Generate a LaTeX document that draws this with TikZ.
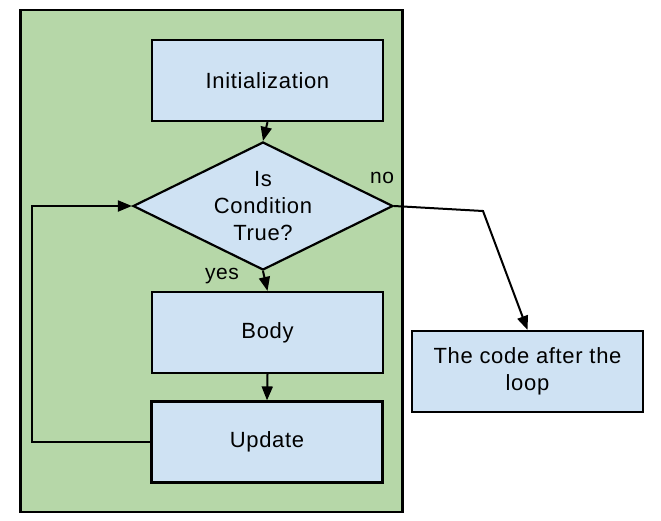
\documentclass[tikz,border=0pt]{standalone}
\usepackage{fontspec}
\setmainfont[LetterSpace=3]{Liberation Sans}
\usetikzlibrary{shapes.geometric,arrows.meta}
\definecolor{bggreen}{HTML}{B6D7A8}
\definecolor{boxblue}{HTML}{CFE2F3}
\tikzset{
  procbox/.style={draw=black, line width=2.2pt, fill=boxblue, minimum width=231pt, minimum height=81pt, inner sep=0pt, font=\fontsize{22pt}{27pt}\selectfont, align=center},
  decision/.style={draw=black, line width=2.2pt, fill=boxblue, diamond, minimum width=260pt, minimum height=128pt, inner sep=0pt},
  flow/.style={line width=2pt, -{Triangle[length=14pt,width=11pt]}},
  lbl/.style={font=\fontsize{21pt}{24pt}\selectfont, inner sep=0pt}
}
\begin{document}
\begin{tikzpicture}[x=1pt,y=-1pt]
\useasboundingbox (0,0) rectangle (661,520);
\node[draw=black, line width=2.2pt, fill=bggreen, minimum width=382pt, minimum height=502pt, inner sep=0pt] (frame) at (211.5,261) {};
\node[procbox] (init) at (267.5,80.5) {Initialization};
\node[decision, label={[font=\fontsize{22pt}{27pt}\selectfont, align=center]center:Is\\Condition\\True?}] (dia) at (263,206) {};
\node[procbox] (body) at (267.5,332.5) {Body};
\node[procbox] (upd) at (267,442) {Update};
\node[procbox] (code) at (527.5,371.5) {The code after the\\loop};
\coordinate (loopc) at (32,442);
\coordinate (bend) at (483,211);
\draw[flow] (init.south) -- (dia.north);
\draw[flow] (dia.south) -- (body.north);
\draw[flow] (body.south) -- (upd.north);
\draw[flow] (upd.west) -- (loopc) |- (dia.west);
\draw[flow] (dia.east) -- (bend) -- (code.north);
\node[lbl] (no) at (382,178) {no};
\node[lbl] (yes) at (222,276) {yes};
\end{tikzpicture}
\end{document}
